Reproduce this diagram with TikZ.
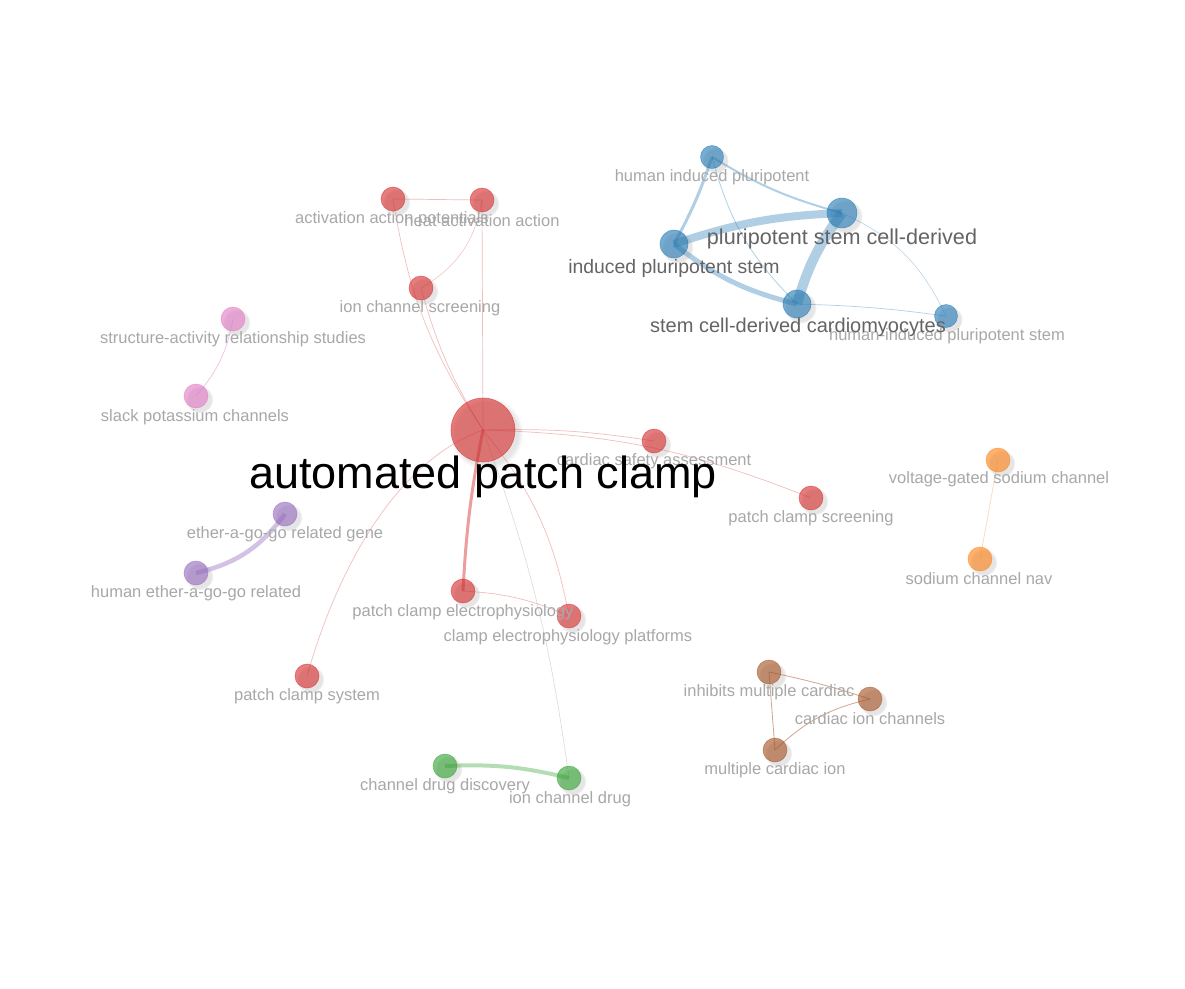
\documentclass[tikz,border=0pt]{standalone}
\usepackage{fontspec}
\setmainfont{Liberation Sans}
\usetikzlibrary{shadows,backgrounds}
\definecolor{tred}{HTML}{D62728}
\definecolor{tblue}{HTML}{1F77B4}
\definecolor{tpink}{HTML}{E377C2}
\definecolor{tpurple}{HTML}{9467BD}
\definecolor{tgreen}{HTML}{2CA02C}
\definecolor{tbrown}{HTML}{A34E1E}
\definecolor{torange}{HTML}{FF7F0E}
\definecolor{lblgray}{HTML}{A8A8A8}
\definecolor{lbldark}{HTML}{646464}
\tikzset{
  kw/.style={circle, inner sep=0pt, minimum size=#1, fill opacity=0.6, draw opacity=0.55, line width=0.6pt,
    circular drop shadow={shadow xshift=3pt, shadow yshift=-3pt, opacity=0.2, shadow scale=1.15}},
  rednode/.style={kw=#1, fill=tred, draw=tred},
  bluenode/.style={kw=#1, fill=tblue, draw=tblue},
  pinknode/.style={kw=#1, fill=tpink, draw=tpink},
  purplenode/.style={kw=#1, fill=tpurple, draw=tpurple},
  greennode/.style={kw=#1, fill=tgreen, draw=tgreen},
  brownnode/.style={kw=#1, fill=tbrown, draw=tbrown},
  orangenode/.style={kw=#1, fill=torange, draw=torange},
  lbl/.style={text=lblgray, font=\fontsize{16.5}{18}\selectfont, inner sep=0pt},
  lblbig/.style={text=lbldark, font=\fontsize{#1}{#1}\selectfont, inner sep=0pt},
  ered/.style={draw=tred, draw opacity=0.3, line width=#1},
  ered/.default=0.7pt,
  eblue/.style={draw=tblue, draw opacity=0.35, line width=#1},
  eblue/.default=0.7pt,
  epink/.style={draw=tpink, draw opacity=0.45, line width=0.7pt},
  epurple/.style={draw=tpurple, draw opacity=0.4, line width=4.5pt},
  egreen/.style={draw=tgreen, draw opacity=0.35, line width=4pt},
  ebrown/.style={draw=tbrown, draw opacity=0.5, line width=0.8pt},
  eorange/.style={draw=torange, draw opacity=0.3, line width=0.7pt},
  egray/.style={draw=black!40, draw opacity=0.35, line width=0.6pt},
}
\begin{document}
\begin{tikzpicture}[x=1pt,y=-1pt]
\useasboundingbox (0,0) rectangle (1185,988);

% nodes
\node[rednode=64pt] (main) at (483,430) {};
\node[rednode=24pt] (act) at (393,199) {};
\node[rednode=24pt] (heat) at (482,200) {};
\node[rednode=24pt] (ics) at (421,288) {};
\node[pinknode=24pt] (sar) at (233,319) {};
\node[pinknode=24pt] (slk) at (196,396) {};
\node[rednode=24pt] (csa) at (654,441) {};
\node[rednode=24pt] (pcs) at (811,498) {};
\node[purplenode=24pt] (eag) at (285,514) {};
\node[purplenode=24pt] (heag) at (196,573) {};
\node[rednode=24pt] (pce) at (463,591) {};
\node[rednode=24pt] (cep) at (569,616) {};
\node[rednode=24pt] (pcsys) at (307,676) {};
\node[greennode=24pt] (cdd) at (445,766) {};
\node[greennode=24pt] (icd) at (569,778) {};
\node[brownnode=24pt] (imc) at (769,672) {};
\node[brownnode=24pt] (cic) at (870,699) {};
\node[brownnode=24pt] (mci) at (775,750) {};
\node[orangenode=24pt] (vgs) at (998,460) {};
\node[orangenode=24pt] (scn) at (980,559) {};
\node[bluenode=23pt] (hip) at (712,157) {};
\node[bluenode=30pt] (psc) at (842,213) {};
\node[bluenode=28pt] (ips) at (674,244) {};
\node[bluenode=28pt] (scd) at (797,304) {};
\node[bluenode=23pt] (hips) at (946,316) {};

% edges
\begin{scope}[on background layer]
\fill[white] (0,0) rectangle (1185,988);
\draw[ered] (main.center) to[bend left=12] (act.center);
\draw[ered] (main.center) to[bend left=8] (ics.center);
\draw[ered] (main.center) -- (heat.center);
\draw[ered] (act.center) -- (heat.center);
\draw[ered=0.5pt] (heat.center) to[bend left=25] (ics.center);
\draw[ered] (main.center) to[bend left=5] (csa.center);
\draw[ered] (main.center) to[bend left=10] (pcs.center);
\draw[ered=3pt, draw opacity=0.45] (main.center) to[bend right=4] (pce.center);
\draw[ered] (main.center) to[bend left=14] (cep.center);
\draw[ered] (pce.center) to[bend left=10] (cep.center);
\draw[ered] (main.center) .. controls (400,460) and (340,560) .. (pcsys.center);
\draw[egray] (main.center) to[bend left=6] (icd.center);
\draw[eblue=8pt] (ips.center) to[bend left=8] (psc.center);
\draw[eblue=10pt] (psc.center) to[bend right=10] (scd.center);
\draw[eblue=5pt] (ips.center) to[bend right=12] (scd.center);
\draw[eblue=3pt] (hip.center) to[bend left=5] (ips.center);
\draw[eblue=2pt] (hip.center) to[bend right=8] (psc.center);
\draw[eblue=0.8pt] (hip.center) to[bend right=15] (scd.center);
\draw[eblue=0.5pt] (psc.center) to[bend left=20] (hips.center);
\draw[eblue=0.7pt] (scd.center) to[bend left=3] (hips.center);
\draw[epink] (sar.center) to[bend left=15] (slk.center);
\draw[epurple] (eag.center) to[bend left=20] (heag.center);
\draw[egreen] (cdd.center) to[bend left=8] (icd.center);
\draw[ebrown] (imc.center) to[bend left=3] (cic.center);
\draw[ebrown] (imc.center) -- (mci.center);
\draw[ebrown] (mci.center) to[bend left=15] (cic.center);
\draw[eorange] (vgs.center) -- (scn.center);
\end{scope}

% labels
\node[lbl] (l-act) at (392,219) {activation action potentials};
\node[lbl] (l-heat) at (482,221) {heat activation action};
\node[lbl] (l-ics) at (420,308) {ion channel screening};
\node[lbl] (l-sar) at (233,339) {structure-activity relationship studies};
\node[lbl] (l-slk) at (195,417) {slack potassium channels};
\node[lbl] (l-csa) at (654,461) {cardiac safety assessment};
\node[lbl] (l-pcs) at (811,518) {patch clamp screening};
\node[lbl] (l-eag) at (285,534) {ether-a-go-go related gene};
\node[lbl] (l-heag) at (196,593) {human ether-a-go-go related};
\node[lbl] (l-pce) at (463,612) {patch clamp electrophysiology};
\node[lbl] (l-cep) at (568,637) {clamp electrophysiology platforms};
\node[lbl] (l-pcsys) at (307,696) {patch clamp system};
\node[lbl] (l-cdd) at (445,786) {channel drug discovery};
\node[lbl] (l-icd) at (570,799) {ion channel drug};
\node[lbl] (l-imc) at (769,692) {inhibits multiple cardiac};
\node[lbl] (l-cic) at (870,719) {cardiac ion channels};
\node[lbl] (l-mci) at (775,770) {multiple cardiac ion};
\node[lbl] (l-vgs) at (999,479) {voltage-gated sodium channel};
\node[lbl] (l-scn) at (979,579) {sodium channel nav};
\node[lbl] (l-hip) at (712,177) {human induced pluripotent};
\node[lbl] (l-hips) at (947,336) {human-induced pluripotent stem};
\node[lblbig=21.6] (l-psc) at (842,239) {pluripotent stem cell-derived};
\node[lblbig=19.4] (l-ips) at (674,268) {induced pluripotent stem};
\node[lblbig=20] (l-scd) at (798,327) {stem cell-derived cardiomyocytes};
\node[text=black, font=\fontsize{45}{45}\selectfont, inner sep=0pt] (l-main) at (483,477) {automated patch clamp};
\end{tikzpicture}
\end{document}
